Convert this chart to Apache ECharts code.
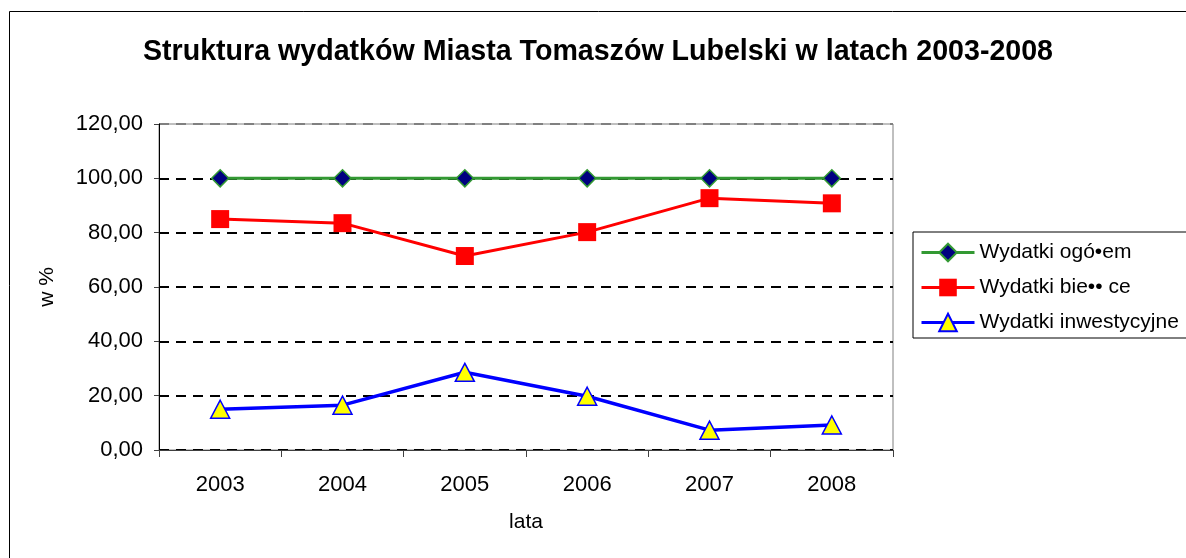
<!DOCTYPE html>
<html>
<head>
<meta charset="utf-8">
<script src="https://cdn.jsdelivr.net/npm/echarts@6/dist/echarts.min.js"></script>
<style>
  html, body { margin: 0; padding: 0; background: #fff; }
  #chart { width: 1186px; height: 558px; }
</style>
</head>
<body>
<div id="chart"></div>
<script>
// dane
const years = ['2003', '2004', '2005', '2006', '2007', '2008']
const ogolem = [100, 100, 100, 100, 100, 100]
const biezace = [85.0, 83.5, 71.4, 80.2, 92.7, 90.8]
const inwestycyjne = [15.0, 16.5, 28.6, 19.8, 7.3, 9.2]
const yTicks = [0, 20, 40, 60, 80, 100, 120]

const fontFamily = '"Liberation Sans", Arial, sans-serif'

const chart = echarts.init(document.getElementById('chart'))
chart.setOption({
  animation: false,
  backgroundColor: '#fff',
  textStyle: { fontFamily: fontFamily },
  title: {
    text: 'Struktura wydatków Miasta Tomaszów Lubelski w latach 2003-2008',
    left: 138,
    top: 33,
    textStyle: {
      color: '#000',
      fontWeight: 'bold',
      fontFamily: fontFamily,
      fontSize: 28.6
    }
  },
  graphic: [{
    type: 'rect',
    shape: { x: 9.5, y: 11.5, width: 1200, height: 600 },
    style: { fill: 'none', stroke: '#000', lineWidth: 1 },
    silent: true,
    z: -1
  }],
  legend: {
    orient: 'vertical',
    left: 913,
    top: 232,
    padding: [10, 40, 5, 7],
    borderColor: '#000',
    borderWidth: 1,
    itemWidth: 53,
    itemHeight: 22,
    itemGap: 14,
    lineStyle: { width: 3 },
    textStyle: { color: '#000', fontSize: 21, fontFamily: fontFamily }
  },
  grid: {
    left: 159,
    right: 293,
    top: 124,
    bottom: 108,
    show: true,
    borderColor: '#808080',
    borderWidth: 1
  },
  xAxis: {
    type: 'category',
    data: years,
    name: 'lata',
    nameLocation: 'middle',
    nameGap: 62,
    nameTextStyle: { color: '#000', fontSize: 21 },
    axisLine: { lineStyle: { color: '#404040', width: 1 } },
    axisTick: { show: true, length: 7, lineStyle: { color: '#404040' } },
    axisLabel: { color: '#000', fontSize: 22, margin: 24 }
  },
  yAxis: {
    type: 'value',
    min: yTicks[0],
    max: yTicks[yTicks.length - 1],
    interval: 20,
    name: 'w %',
    nameLocation: 'middle',
    nameGap: 101,
    nameTextStyle: { color: '#000', fontSize: 21 },
    axisLine: { show: true, lineStyle: { color: '#000', width: 1 } },
    axisTick: { show: true, length: 5, lineStyle: { color: '#404040' } },
    axisLabel: {
      color: '#000',
      fontSize: 22,
      margin: 16,
      formatter: v => v.toFixed(2).replace('.', ',')
    },
    splitLine: {
      show: true,
      lineStyle: {
        color: ['#000', '#000', '#000', '#000', '#000', '#000', '#808080'],
        width: 2,
        type: [10, 7]
      }
    }
  },
  series: [{
    name: 'Wydatki ogó•em',
    type: 'line',
    data: ogolem,
    symbol: 'diamond',
    symbolSize: 17,
    lineStyle: { color: '#339933', width: 3 },
    itemStyle: { color: '#000080', borderColor: '#339933', borderWidth: 1.5 },
    z: 4
  }, {
    name: 'Wydatki bie•• ce',
    type: 'line',
    data: biezace,
    symbol: 'rect',
    symbolSize: 18,
    lineStyle: { color: '#ff0000', width: 3 },
    itemStyle: { color: '#ff0000', borderColor: '#ff0000', borderWidth: 0 },
    z: 3
  }, {
    name: 'Wydatki inwestycyjne',
    type: 'line',
    data: inwestycyjne,
    symbol: 'triangle',
    symbolSize: [19, 18],
    lineStyle: { color: '#0000ff', width: 3.5 },
    itemStyle: { color: '#ffff00', borderColor: '#0000ff', borderWidth: 1.5 },
    z: 3
  }]
})
</script>
</body>
</html>
